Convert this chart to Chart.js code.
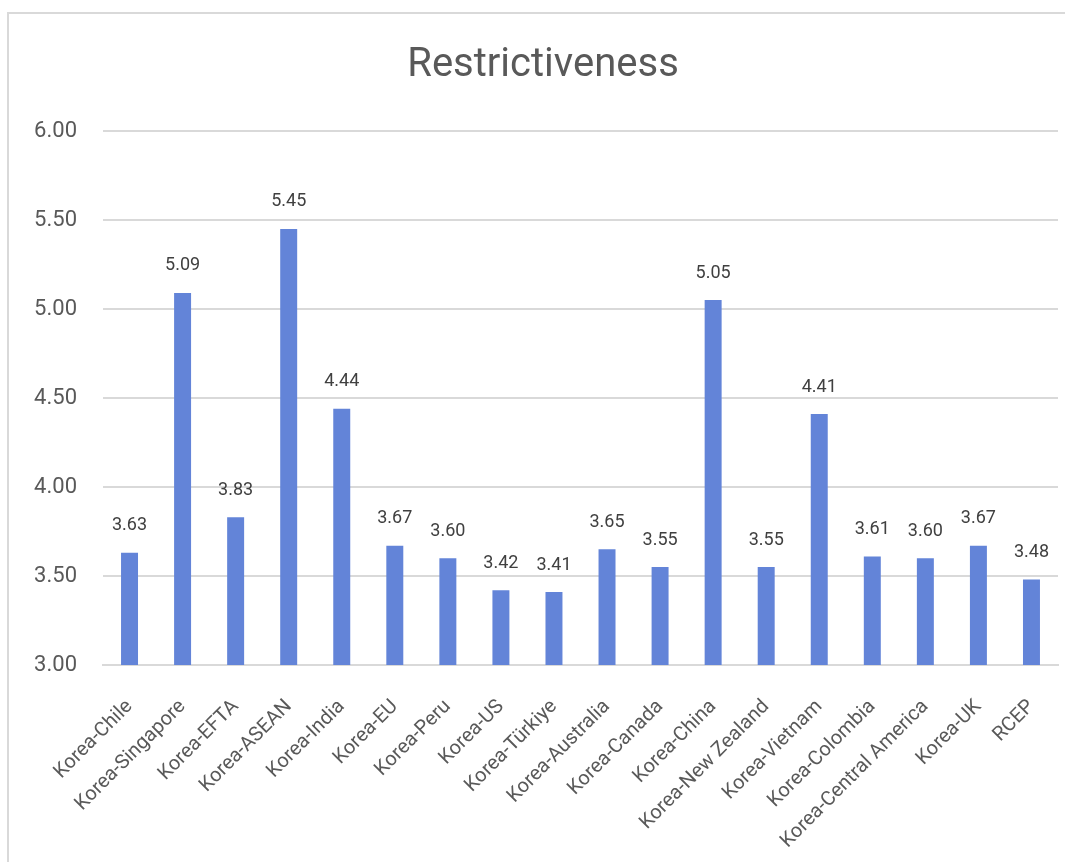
<!DOCTYPE html>
<html>
<head>
<meta charset="utf-8">
<script src="https://cdn.jsdelivr.net/npm/chart.js@4"></script>
<style>
  html, body { margin: 0; padding: 0; background: #fff; overflow: hidden; }
  #frame { position: absolute; left: 7px; top: 12px; width: 1200px; height: 1000px; border: 2px solid #d9d9d9; }
  #wrap { position: absolute; left: 0; top: 0; width: 1065px; height: 862px; }
</style>
</head>
<body>
<div id="frame"></div>
<div id="wrap"><canvas id="restrictChart"></canvas></div>
<script>
const agreements = [
  'Korea-Chile', 'Korea-Singapore', 'Korea-EFTA', 'Korea-ASEAN', 'Korea-India',
  'Korea-EU', 'Korea-Peru', 'Korea-US', 'Korea-Türkiye', 'Korea-Australia',
  'Korea-Canada', 'Korea-China', 'Korea-New Zealand', 'Korea-Vietnam',
  'Korea-Colombia', 'Korea-Central America', 'Korea-UK', 'RCEP'
];
const restrictiveness = [
  3.63, 5.09, 3.83, 5.45, 4.44, 3.67, 3.60, 3.42, 3.41,
  3.65, 3.55, 5.05, 3.55, 4.41, 3.61, 3.60, 3.67, 3.48
];
const yTicks = [3.00, 3.50, 4.00, 4.50, 5.00, 5.50, 6.00];
const chartTitle = 'Restrictiveness';

const font = 'Roboto';

// value above each bar, and the title (centred on the frame, not the canvas)
const valueLabels = {
  id: 'valueLabels',
  afterDatasetsDraw(chart) {
    const ctx = chart.ctx;
    const meta = chart.getDatasetMeta(0);
    ctx.save();
    ctx.font = '18px ' + font;
    ctx.fillStyle = '#404040';
    ctx.textAlign = 'center';
    ctx.textBaseline = 'middle';
    meta.data.forEach((bar, i) => {
      ctx.fillText(restrictiveness[i].toFixed(2), bar.x, bar.y - 27);
    });
    ctx.font = '40px ' + font;
    ctx.fillStyle = '#595959';
    ctx.fillText(chartTitle, 543, 66);
    ctx.restore();
  }
};

const ctx = document.getElementById('restrictChart').getContext('2d');
const chart = new Chart(ctx, {
  type: 'bar',
  data: {
    labels: agreements,
    datasets: [{
      label: chartTitle,
      data: restrictiveness,
      backgroundColor: '#6384d8',
      borderWidth: 0,
      categoryPercentage: 1,
      barPercentage: 0.32
    }]
  },
  options: {
    responsive: true,
    maintainAspectRatio: false,
    animation: false,
    layout: { padding: { left: 0, right: 7, top: 131, bottom: 0 } },
    plugins: {
      legend: { display: false },
      tooltip: { enabled: false },
      title: { display: false }
    },
    scales: {
      x: {
        grid: { display: false },
        border: { color: '#d9d9d9', width: 2 },
        ticks: {
          color: '#595959',
          font: { family: font, size: 20 },
          minRotation: 45,
          maxRotation: 45,
          autoSkip: false,
          padding: 22
        },
        afterFit(scale) {
          scale.height = 197;
          scale.paddingLeft = 0;
          scale.paddingRight = 0;
        }
      },
      y: {
        min: 3,
        max: 6,
        afterBuildTicks(scale) { scale.ticks = yTicks.map(v => ({ value: v })); },
        grid: { color: '#d9d9d9', lineWidth: 2, drawTicks: false },
        border: { display: false },
        ticks: {
          color: '#595959',
          font: { family: font, size: 22 },
          padding: 26,
          callback: v => v.toFixed(2)
        },
        afterFit(scale) { scale.width = 103; }
      }
    }
  },
  plugins: [valueLabels]
});
</script>
</body>
</html>
